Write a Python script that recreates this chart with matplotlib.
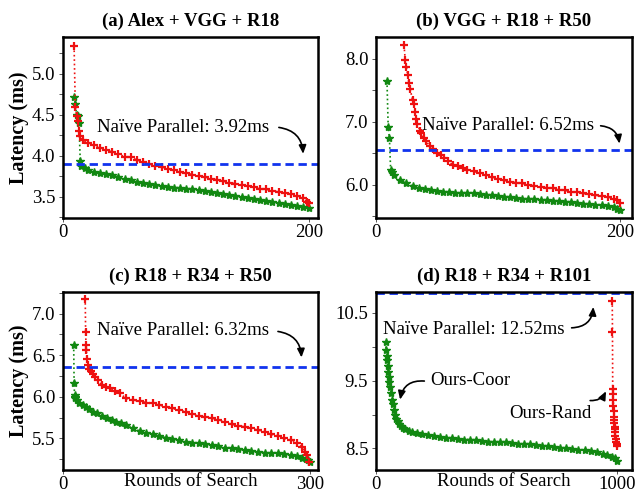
import matplotlib
matplotlib.use("Agg")
import matplotlib.pyplot as plt
from matplotlib.ticker import MultipleLocator, FixedLocator

plt.rcParams["font.family"] = "serif"
plt.rcParams["font.serif"] = ["Liberation Serif", "DejaVu Serif"]

# ---- (a) Alex + VGG + R18 ----
a_rand_x = [9, 10, 11, 12, 13, 14, 16, 20, 25, 30, 35, 40, 45, 50, 55, 60, 65, 70, 75, 80,
            85, 90, 95, 100, 105, 110, 115, 120, 125, 130, 135, 140, 145, 150, 155, 160,
            165, 170, 175, 180, 185, 190, 195, 198, 200]
a_rand_y = [5.34, 4.60, 4.48, 4.42, 4.30, 4.24, 4.19, 4.16, 4.13, 4.10, 4.07, 4.05, 4.02,
            3.99, 3.98, 3.95, 3.92, 3.90, 3.88, 3.86, 3.84, 3.82, 3.80, 3.79, 3.77, 3.75,
            3.74, 3.72, 3.71, 3.69, 3.67, 3.66, 3.64, 3.63, 3.62, 3.60, 3.59, 3.57, 3.56,
            3.55, 3.53, 3.51, 3.48, 3.44, 3.42]
a_coor_x = [9, 10, 11, 12, 13, 14, 15, 18, 20, 25, 30, 35, 40, 45, 50, 55, 60, 65, 70, 75,
            80, 85, 90, 95, 100, 105, 110, 115, 120, 125, 130, 135, 140, 145, 150, 155,
            160, 165, 170, 175, 180, 185, 190, 195, 200]
a_coor_y = [4.72, 4.63, 4.50, 4.48, 4.40, 3.93, 3.87, 3.85, 3.83, 3.80, 3.79, 3.78, 3.76,
            3.74, 3.72, 3.70, 3.68, 3.67, 3.66, 3.64, 3.63, 3.62, 3.61, 3.61, 3.60, 3.59,
            3.58, 3.57, 3.56, 3.54, 3.53, 3.52, 3.51, 3.50, 3.48, 3.47, 3.46, 3.45, 3.44,
            3.42, 3.41, 3.40, 3.39, 3.37, 3.36]
a_naive = 3.90

# ---- (b) VGG + R18 + R50 ----
b_rand_x = [23, 24, 25, 26, 27, 28, 30, 31, 32, 33, 34, 36, 37, 39, 41, 44, 47, 50, 53, 56,
            59, 63, 67, 71, 75, 80, 85, 90, 95, 100, 105, 110, 115, 120, 125, 130, 135,
            140, 145, 150, 155, 160, 165, 170, 175, 180, 185, 190, 195, 198, 200]
b_rand_y = [8.22, 7.98, 7.88, 7.74, 7.62, 7.53, 7.34, 7.28, 7.15, 7.05, 6.97, 6.86, 6.82,
            6.74, 6.69, 6.62, 6.56, 6.51, 6.47, 6.42, 6.37, 6.32, 6.29, 6.26, 6.24, 6.21,
            6.18, 6.15, 6.12, 6.09, 6.07, 6.05, 6.03, 6.02, 6.00, 5.98, 5.97, 5.95, 5.94,
            5.92, 5.91, 5.89, 5.88, 5.86, 5.85, 5.83, 5.82, 5.80, 5.78, 5.76, 5.71]
b_coor_x = [9, 10, 11, 12, 13, 15, 20, 25, 30, 35, 40, 45, 50, 55, 60, 65, 70, 75, 80, 85,
            90, 95, 100, 105, 110, 115, 120, 125, 130, 135, 140, 145, 150, 155, 160, 165,
            170, 175, 180, 185, 190, 195, 198, 200]
b_coor_y = [7.65, 6.92, 6.75, 6.24, 6.20, 6.15, 6.08, 6.02, 5.98, 5.95, 5.93, 5.91, 5.90,
            5.89, 5.88, 5.87, 5.87, 5.86, 5.86, 5.85, 5.84, 5.83, 5.82, 5.81, 5.80, 5.79,
            5.78, 5.77, 5.77, 5.76, 5.75, 5.74, 5.74, 5.73, 5.72, 5.71, 5.70, 5.69, 5.68,
            5.67, 5.66, 5.64, 5.62, 5.60]
b_naive = 6.55

# ---- (c) R18 + R34 + R50 ----
c_rand_x = [27, 27.5, 28, 28.5, 29, 30, 32, 34, 36, 39, 43, 47, 52, 57, 63, 69, 77, 85, 93,
            101, 109, 117, 125, 133, 141, 149, 157, 165, 173, 181, 189, 197, 205, 213, 221,
            229, 237, 245, 253, 261, 269, 277, 285, 290, 294, 297, 299]
c_rand_y = [7.18, 6.78, 6.62, 6.56, 6.46, 6.38, 6.34, 6.31, 6.28, 6.24, 6.20, 6.14, 6.12,
            6.10, 6.07, 6.04, 5.98, 5.96, 5.95, 5.93, 5.92, 5.90, 5.88, 5.86, 5.84, 5.82,
            5.79, 5.77, 5.76, 5.74, 5.72, 5.70, 5.67, 5.65, 5.64, 5.62, 5.60, 5.58, 5.55,
            5.53, 5.50, 5.48, 5.45, 5.40, 5.34, 5.30, 5.22]
c_coor_x = [13, 13.5, 14, 14.5, 15, 17, 20, 24, 28, 32, 36, 41, 47, 53, 59, 65, 71, 77, 85,
            93, 101, 109, 117, 125, 133, 141, 149, 157, 165, 173, 181, 189, 197, 205, 213,
            221, 229, 237, 245, 253, 261, 269, 277, 285, 291, 295, 298, 300]
c_coor_y = [6.62, 6.16, 6.02, 6.00, 5.98, 5.96, 5.93, 5.90, 5.88, 5.85, 5.82, 5.80, 5.77,
            5.74, 5.72, 5.70, 5.68, 5.66, 5.62, 5.59, 5.57, 5.55, 5.53, 5.51, 5.49, 5.48,
            5.46, 5.45, 5.44, 5.43, 5.42, 5.41, 5.39, 5.38, 5.37, 5.36, 5.35, 5.34, 5.33,
            5.32, 5.32, 5.31, 5.30, 5.29, 5.27, 5.25, 5.24, 5.22]
c_naive = 6.36

# ---- (d) R18 + R34 + R101 ----
d_rand_x = [980, 981, 982, 983, 984, 985, 986, 987, 988, 989, 990, 991, 992, 993, 995, 997,
            999, 1001]
d_rand_y = [10.68, 10.22, 9.38, 9.30, 9.22, 9.12, 9.05, 8.97, 8.92, 8.88, 8.82, 8.78, 8.74,
            8.68, 8.64, 8.60, 8.56, 8.54]
d_coor_x = [40, 42, 44, 46, 48, 50, 53, 56, 60, 64, 68, 72, 76, 80, 85, 90, 96, 102, 110,
            120, 135, 150, 170, 190, 215, 240, 265, 290, 315, 340, 365, 390, 415, 440, 465,
            490, 515, 540, 565, 590, 615, 640, 665, 690, 715, 740, 765, 790, 815, 840, 865,
            890, 915, 940, 960, 980, 990, 1000]
d_coor_y = [10.07, 9.95, 9.87, 9.80, 9.72, 9.63, 9.56, 9.48, 9.40, 9.32, 9.22, 9.15, 9.07,
            9.00, 8.94, 8.90, 8.86, 8.83, 8.80, 8.78, 8.76, 8.74, 8.72, 8.71, 8.69, 8.68,
            8.67, 8.66, 8.65, 8.64, 8.63, 8.63, 8.62, 8.61, 8.60, 8.60, 8.59, 8.59, 8.58,
            8.57, 8.56, 8.56, 8.55, 8.54, 8.53, 8.52, 8.51, 8.50, 8.49, 8.48, 8.47, 8.46,
            8.44, 8.42, 8.40, 8.37, 8.35, 8.32]
d_naive = 10.79

titles = ["(a) Alex + VGG + R18", "(b) VGG + R18 + R50",
          "(c) R18 + R34 + R50", "(d) R18 + R34 + R101"]
naive_labels = ["Naïve Parallel: 3.92ms", "Naïve Parallel: 6.52ms",
                "Naïve Parallel: 6.32ms", "Naïve Parallel: 12.52ms"]
y_major = [[3.5, 4.0, 4.5, 5.0], [6.0, 7.0, 8.0], [5.5, 6.0, 6.5, 7.0], [8.5, 9.5, 10.5]]

fig = plt.figure(figsize=(6.39, 4.93), dpi=100)
W, H = 639.0, 493.0
boxes = [(63, 37, 318, 218), (376, 37, 632, 218), (63, 292, 318, 470), (376, 292, 632, 470)]
axes = []
for (l, t, r, b) in boxes:
    axes.append(fig.add_axes([l / W, 1 - b / H, (r - l) / W, (b - t) / H]))

panels = [
    (a_rand_x, a_rand_y, a_coor_x, a_coor_y, a_naive, (0, 207), (3.24, 5.45), 200, 0.25),
    (b_rand_x, b_rand_y, b_coor_x, b_coor_y, b_naive, (0, 210), (5.47, 8.35), 200, 0.5),
    (c_rand_x, c_rand_y, c_coor_x, c_coor_y, c_naive, (0, 310), (5.12, 7.26), 300, 0.25),
    (d_rand_x, d_rand_y, d_coor_x, d_coor_y, d_naive, (0, 1062), (8.18, 10.81), 1000, 0.5),
]

for i, ax in enumerate(axes):
    rx, ry, cx, cy, naive, xl, yl, xmax, minor = panels[i]
    ax.plot(cx, cy, color="#118811", linestyle=":", linewidth=1.2, marker="*",
            markersize=6, markeredgewidth=1.0)
    ax.plot(rx, ry, color="#ee1111", linestyle=":", linewidth=1.2, marker="+",
            markersize=5.5, markeredgewidth=1.6)
    ax.axhline(naive, color="#1133ee", linestyle="--", linewidth=2.0, dashes=(3, 1.7))
    ax.set_xlim(xl)
    ax.set_ylim(yl)
    ax.xaxis.set_major_locator(FixedLocator([0, xmax]))
    ax.yaxis.set_major_locator(FixedLocator(y_major[i]))
    ax.yaxis.set_minor_locator(MultipleLocator(minor))
    ax.yaxis.set_major_formatter(plt.FormatStrFormatter("%.1f"))
    ax.tick_params(axis="both", which="both", direction="out", length=3, width=0.7,
                   color="#555555", labelsize=13.5, pad=2.5)
    ax.tick_params(axis="x", pad=1.5)
    for s in ax.spines.values():
        s.set_linewidth(1.8)
    ax.set_title(titles[i], fontsize=13.5, fontweight="bold", pad=8)

for ax in (axes[0], axes[2]):
    ax.set_ylabel("Latency (ms)", fontsize=14.5, fontweight="bold", labelpad=2)
for ax in (axes[2], axes[3]):
    ax.set_xlabel("Rounds of Search", fontsize=13.5)
    ax.xaxis.set_label_coords(0.5, -0.018)

arrow = dict(arrowstyle="-|>,head_length=0.5,head_width=0.22", color="black", lw=1.2)

# naive parallel labels with curved arrows
axes[0].annotate("", xy=(195, 3.99), xytext=(173, 4.35),
                 arrowprops=dict(arrow, connectionstyle="arc3,rad=-0.45"))
axes[0].text(27.5, 4.35, naive_labels[0], fontsize=13.5, ha="left", va="center")

axes[1].annotate("", xy=(200, 6.61), xytext=(182, 6.94),
                 arrowprops=dict(arrow, connectionstyle="arc3,rad=-0.45"))
axes[1].text(37.5, 6.94, naive_labels[1], fontsize=13.5, ha="left", va="center")

axes[2].annotate("", xy=(290, 6.44), xytext=(258, 6.79),
                 arrowprops=dict(arrow, connectionstyle="arc3,rad=-0.45"))
axes[2].text(41, 6.80, naive_labels[2], fontsize=13.5, ha="left", va="center")

axes[3].annotate("", xy=(902, 10.63), xytext=(800, 10.28),
                 arrowprops=dict(arrow, connectionstyle="arc3,rad=0.5"))
axes[3].text(28, 10.26, naive_labels[3], fontsize=13.5, ha="left", va="center")

axes[3].annotate("", xy=(98, 9.18), xytext=(212, 9.49),
                 arrowprops=dict(arrow, connectionstyle="arc3,rad=0.5"))
axes[3].text(227, 9.50, "Ours-Coor", fontsize=13.5, ha="left", va="center")

axes[3].annotate("", xy=(959, 9.38), xytext=(877, 9.21),
                 arrowprops=dict(arrow, connectionstyle="arc3,rad=0.4"))
axes[3].text(552, 9.01, "Ours-Rand", fontsize=13.5, ha="left", va="center")

fig.savefig("out.png", dpi=100)
